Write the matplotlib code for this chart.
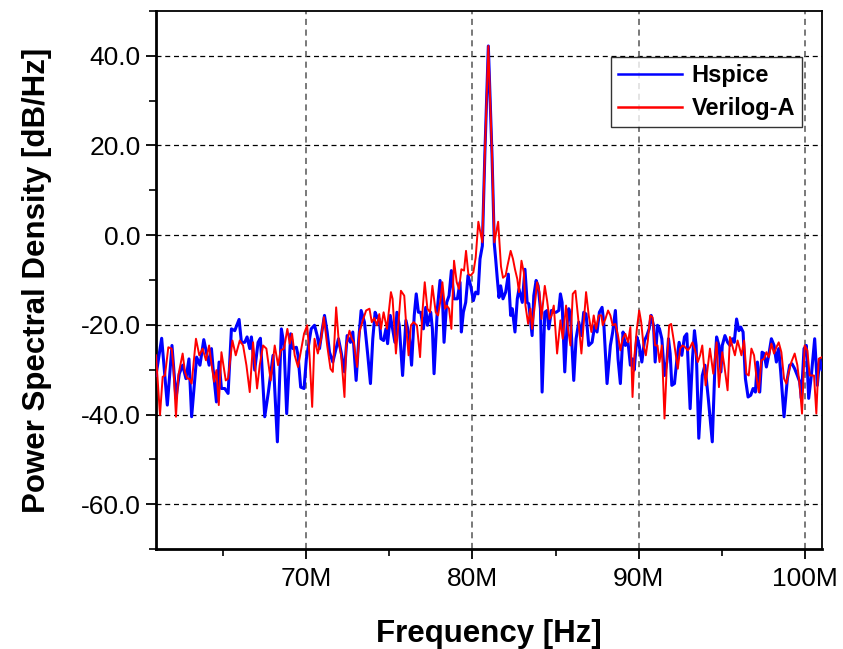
import matplotlib
matplotlib.use("Agg")
import matplotlib.pyplot as plt
from matplotlib.ticker import MultipleLocator, FuncFormatter

# ---- data ----
hspice_freq_mhz = [
    61.00, 61.34, 61.68, 61.96, 62.20, 62.40, 62.60, 62.80, 62.98, 63.14,
    63.44, 63.64, 63.87, 64.07, 64.19, 64.33, 64.43, 64.63, 64.79, 64.93,
    65.13, 65.33, 65.53, 65.73, 65.99, 66.13, 66.33, 66.47, 66.63, 66.73,
    66.93, 67.13, 67.27, 67.53, 67.75, 68.03, 68.29, 68.53, 68.69, 68.85,
    69.09, 69.23, 69.43, 69.53, 69.69, 69.89, 70.03, 70.16, 70.32, 70.52,
    70.68, 70.82, 70.96, 71.12, 71.28, 71.42, 71.62, 71.82, 71.96, 72.12,
    72.32, 72.48, 72.68, 72.82, 73.02, 73.18, 73.32, 73.52, 73.72, 73.88,
    74.02, 74.16, 74.30, 74.41, 74.51, 74.67, 74.81, 74.91, 75.07, 75.21,
    75.35, 75.47, 75.61, 75.81, 76.01, 76.21, 76.35, 76.51, 76.63, 76.76,
    76.90, 77.06, 77.20, 77.30, 77.50, 77.60, 77.70, 77.90, 78.06, 78.20,
    78.30, 78.46, 78.60, 78.74, 78.90, 79.10, 79.26, 79.34, 79.46, 79.60,
    79.74, 79.90, 80.06, 80.20, 80.34, 80.46, 80.60, 80.75, 80.96, 81.18,
    81.32, 81.40, 81.50, 81.60, 81.70, 81.84, 82.00, 82.16, 82.30, 82.40,
    82.56, 82.70, 82.80, 82.90, 83.00, 83.16, 83.29, 83.39, 83.59, 83.69,
    83.83, 83.95, 84.09, 84.19, 84.35, 84.49, 84.59, 84.75, 84.89, 85.03,
    85.19, 85.29, 85.39, 85.55, 85.69, 85.79, 85.89, 86.09, 86.23, 86.39,
    86.55, 86.69, 86.83, 86.99, 87.19, 87.35, 87.49, 87.63, 87.79, 87.89,
    88.09, 88.29, 88.43, 88.59, 88.75, 88.89, 89.05, 89.19, 89.35, 89.49,
    89.62, 89.72, 89.88, 90.02, 90.18, 90.34, 90.48, 90.62, 90.74, 90.88,
    90.98, 91.12, 91.24, 91.38, 91.54, 91.68, 91.78, 91.88, 91.98, 92.14,
    92.28, 92.42, 92.58, 92.74, 92.88, 93.08, 93.22, 93.34, 93.44, 93.60,
    93.81, 93.97, 94.17, 94.41, 94.57, 94.67, 94.81, 94.93, 95.01, 95.17,
    95.33, 95.47, 95.61, 95.73, 95.87, 96.01, 96.12, 96.26, 96.40, 96.56,
    96.72, 96.86, 97.00, 97.12, 97.26, 97.40, 97.52, 97.66, 97.80, 97.96,
    98.12, 98.26, 98.40, 98.52, 98.72, 98.92, 99.06, 99.20, 99.36, 99.52,
    99.66, 99.76, 99.92, 100.06, 100.20, 100.36, 100.56, 100.72, 100.86, 101.0,
]
hspice_psd = [
    -31.3, -23.0, -37.9, -24.6, -36.4, -30.9, -29.0, -32.0, -27.6, -40.5,
    -27.2, -29.0, -23.3, -26.8, -29.0, -25.3, -29.8, -37.2, -28.3, -34.2,
    -34.2, -35.3, -20.9, -21.3, -18.8, -23.9, -23.9, -22.7, -25.3, -22.7,
    -30.1, -23.9, -23.0, -40.5, -35.0, -26.8, -46.1, -20.9, -24.6, -39.8,
    -22.0, -25.3, -25.0, -26.8, -33.9, -34.2, -27.6, -24.6, -20.9, -20.1,
    -22.4, -25.3, -21.6, -17.9, -21.6, -26.1, -28.3, -25.3, -23.1, -26.1,
    -30.5, -22.4, -23.9, -21.6, -32.4, -23.1, -16.8, -19.4, -26.8, -33.1,
    -23.1, -17.2, -18.5, -18.7, -23.1, -23.5, -20.9, -24.2, -17.9, -20.9,
    -23.9, -17.2, -20.1, -31.3, -19.0, -22.4, -29.0, -17.9, -13.1, -17.2,
    -17.2, -20.9, -16.1, -20.1, -17.2, -20.9, -30.9, -16.4, -10.1, -13.5,
    -23.9, -15.0, -13.5, -7.9, -14.2, -14.2, -10.5, -21.6, -17.2, -15.0,
    -9.0, -11.3, -14.6, -12.7, -13.1, -5.3, -2.4, 18.0, 42.2, 18.0,
    -2.0, -5.3, -9.8, -13.9, -11.3, -14.2, -12.7, -8.7, -17.9, -16.4,
    -21.6, -14.2, -12.0, -13.5, -15.0, -7.6, -15.0, -15.3, -22.4, -13.5,
    -10.1, -11.3, -16.4, -35.0, -17.2, -16.8, -20.9, -16.8, -17.2, -17.2,
    -16.8, -13.1, -15.0, -30.5, -20.1, -16.4, -17.9, -32.4, -23.1, -19.4,
    -22.4, -17.2, -17.6, -24.6, -23.9, -20.1, -21.6, -17.2, -16.1, -19.4,
    -33.1, -24.6, -21.6, -16.8, -27.6, -33.1, -21.6, -24.6, -23.9, -29.0,
    -27.6, -30.1, -22.7, -24.6, -28.3, -23.5, -22.4, -20.9, -17.9, -20.1,
    -28.3, -20.1, -20.9, -23.1, -31.3, -28.3, -23.1, -26.4, -33.5, -33.1,
    -27.9, -23.9, -26.8, -22.7, -22.0, -38.7, -27.6, -21.3, -24.6, -45.3,
    -31.3, -29.0, -36.4, -46.1, -29.0, -22.7, -24.6, -30.5, -24.6, -22.4,
    -23.9, -24.6, -23.1, -23.9, -18.7, -21.3, -20.5, -21.6, -32.0, -36.1,
    -35.7, -34.2, -35.0, -28.3, -35.0, -26.1, -26.4, -29.4, -26.8, -23.1,
    -24.6, -28.3, -25.3, -30.5, -40.5, -32.0, -29.0, -28.7, -29.8, -31.3,
    -32.7, -36.4, -25.3, -24.6, -36.4, -31.3, -23.1, -33.5, -27.6, -30.0,
]

veriloga_freq_mhz = [
    61.00, 61.24, 61.40, 61.54, 61.74, 61.94, 62.04, 62.20, 62.34, 62.60,
    62.74, 62.88, 63.00, 63.14, 63.40, 63.60, 63.80, 64.00, 64.19, 64.33,
    64.49, 64.63, 64.77, 64.93, 65.19, 65.33, 65.59, 65.79, 66.03, 66.23,
    66.43, 66.63, 66.83, 67.07, 67.23, 67.43, 67.63, 67.89, 68.13, 68.33,
    68.49, 68.69, 68.89, 69.03, 69.17, 69.33, 69.53, 69.73, 69.89, 70.08,
    70.22, 70.38, 70.52, 70.72, 70.92, 71.08, 71.28, 71.48, 71.62, 71.82,
    71.98, 72.12, 72.32, 72.42, 72.62, 72.76, 72.88, 73.08, 73.22, 73.42,
    73.62, 73.82, 73.96, 74.11, 74.27, 74.41, 74.51, 74.67, 74.87, 75.11,
    75.21, 75.41, 75.55, 75.71, 75.91, 76.07, 76.17, 76.31, 76.47, 76.67,
    76.86, 77.00, 77.14, 77.30, 77.46, 77.60, 77.80, 77.94, 78.10, 78.20,
    78.36, 78.46, 78.60, 78.74, 78.90, 79.06, 79.20, 79.34, 79.50, 79.62,
    79.76, 79.90, 80.06, 80.20, 80.36, 80.60, 80.75, 80.96, 81.18, 81.32,
    81.55, 81.72, 81.84, 82.00, 82.10, 82.30, 82.44, 82.56, 82.70, 82.80,
    82.95, 83.09, 83.19, 83.35, 83.49, 83.59, 83.75, 83.89, 84.03, 84.15,
    84.35, 84.49, 84.63, 84.75, 84.89, 85.09, 85.29, 85.43, 85.63, 85.75,
    85.89, 86.03, 86.19, 86.35, 86.55, 86.69, 86.83, 86.99, 87.15, 87.29,
    87.43, 87.59, 87.75, 87.83, 87.99, 88.15, 88.29, 88.43, 88.59, 88.75,
    88.89, 89.03, 89.19, 89.35, 89.49, 89.62, 89.74, 89.88, 90.02, 90.14,
    90.28, 90.42, 90.54, 90.68, 90.82, 90.98, 91.12, 91.24, 91.38, 91.54,
    91.68, 91.82, 91.94, 92.08, 92.22, 92.34, 92.48, 92.62, 92.78, 92.94,
    93.08, 93.22, 93.38, 93.54, 93.68, 93.81, 94.01, 94.27, 94.47, 94.67,
    94.81, 95.01, 95.13, 95.33, 95.47, 95.61, 95.77, 95.93, 96.06, 96.16,
    96.32, 96.46, 96.60, 96.76, 96.92, 97.06, 97.20, 97.36, 97.52, 97.66,
    97.80, 97.96, 98.12, 98.26, 98.40, 98.56, 98.72, 98.86, 99.00, 99.16,
    99.36, 99.52, 99.66, 99.80, 99.96, 100.12, 100.26, 100.40, 100.52, 100.66,
    100.80, 101.0,
]
veriloga_psd = [
    -26.8, -40.1, -31.6, -31.3, -25.0, -25.3, -29.0, -40.5, -31.3, -26.4,
    -30.5, -32.0, -32.0, -33.1, -23.1, -26.8, -25.3, -27.9, -24.6, -28.7,
    -32.7, -30.1, -37.9, -26.1, -32.4, -32.0, -23.5, -26.8, -23.5, -24.6,
    -29.0, -35.0, -23.9, -34.2, -29.0, -24.6, -25.3, -32.4, -24.6, -29.0,
    -25.7, -25.3, -20.9, -24.2, -22.0, -26.8, -29.4, -25.3, -22.0, -20.1,
    -26.8, -38.3, -23.1, -26.4, -23.1, -18.3, -24.6, -29.8, -30.5, -16.1,
    -23.9, -26.8, -36.1, -24.6, -21.3, -23.1, -23.9, -29.4, -21.6, -19.0,
    -16.8, -16.4, -19.4, -18.5, -20.1, -17.6, -20.9, -17.2, -20.9, -12.7,
    -14.2, -26.4, -20.1, -12.4, -13.5, -22.4, -26.8, -20.1, -19.4, -20.1,
    -27.2, -17.2, -10.5, -16.4, -17.2, -11.3, -17.2, -17.9, -14.2, -10.5,
    -16.4, -15.7, -16.4, -20.9, -5.7, -10.5, -12.0, -7.6, -7.9, -3.5,
    -8.7, -9.0, -8.3, -5.0, 3.0, -1.6, 18.0, 42.2, 18.0, -1.6,
    3.0, -7.0, -9.5, -9.0, -7.0, -3.5, -5.3, -7.6, -9.8, -12.7,
    -5.7, -8.3, -15.7, -19.8, -16.4, -20.9, -15.7, -10.5, -12.7, -18.7,
    -11.3, -14.6, -18.7, -18.0, -15.7, -26.4, -19.0, -23.1, -15.7, -20.9,
    -24.6, -13.1, -12.4, -18.3, -26.4, -19.4, -12.7, -17.9, -21.6, -17.9,
    -20.9, -17.9, -17.9, -20.1, -18.7, -16.8, -17.9, -20.1, -19.8, -22.4,
    -25.7, -23.1, -22.0, -23.9, -20.5, -36.1, -26.8, -20.9, -16.8, -19.4,
    -24.6, -26.8, -23.5, -17.9, -18.3, -24.6, -24.6, -28.3, -24.6, -40.9,
    -29.0, -20.1, -19.8, -23.1, -26.8, -29.8, -25.3, -24.6, -25.0, -25.7,
    -25.0, -23.9, -25.7, -28.3, -26.8, -24.6, -33.5, -25.3, -30.9, -23.9,
    -33.9, -26.1, -29.0, -34.6, -22.7, -24.6, -26.8, -23.5, -25.3, -26.8,
    -23.5, -30.9, -31.3, -25.3, -26.8, -31.6, -35.0, -27.9, -27.6, -26.1,
    -27.2, -24.2, -26.4, -25.0, -23.9, -26.1, -32.0, -33.1, -30.5, -28.3,
    -26.4, -29.0, -33.5, -39.8, -24.6, -25.7, -31.3, -31.3, -31.3, -39.8,
    -27.6, -27.2,
]

x_ticks_mhz = [70, 80, 90, 100]
x_tick_labels = ["70M", "80M", "90M", "100M"]
y_ticks = [-60, -40, -20, 0, 20, 40]

# ---- figure ----
plt.rcParams["font.family"] = ["Liberation Sans", "DejaVu Sans"]
fig = plt.figure(figsize=(8.43, 6.49), dpi=100)
ax = fig.add_axes([156 / 843, 1 - 549 / 649, (822 - 156) / 843, (549 - 11) / 649])

ax.plot(hspice_freq_mhz, hspice_psd, color="#0000ff", lw=2.2, label="Hspice",
        solid_joinstyle="round", zorder=3)
ax.plot(veriloga_freq_mhz, veriloga_psd, color="#ff0000", lw=1.4, label="Verilog-A",
        solid_joinstyle="round", zorder=4)

ax.set_xlim(61, 101)
ax.set_ylim(-70, 50)

ax.set_xticks(x_ticks_mhz)
ax.set_xticklabels(x_tick_labels)
ax.xaxis.set_minor_locator(MultipleLocator(5))
ax.set_yticks(y_ticks)
ax.yaxis.set_major_formatter(FuncFormatter(lambda v, p: f"{v:.1f}".replace("\u2212", "-")))
ax.yaxis.set_minor_locator(MultipleLocator(10))

ax.tick_params(axis="both", which="major", direction="out", length=7, width=1.3,
               labelsize=19, pad=4, colors="black")
ax.tick_params(axis="both", which="minor", direction="out", length=5, width=1.2)
ax.tick_params(axis="x", which="major", pad=6)

for y in y_ticks:
    ax.axhline(y, color="black", lw=0.9, ls=(0, (4, 3)), zorder=1)
for x in x_ticks_mhz:
    ax.axvline(x, color="#555555", lw=1.1, ls=(0, (4, 3)), zorder=1)

for side in ["left", "bottom"]:
    ax.spines[side].set_linewidth(2.0)
for side in ["top", "right"]:
    ax.spines[side].set_linewidth(1.3)

ax.set_xlabel("Frequency [Hz]", fontsize=22.5, fontweight="bold", labelpad=20)
ax.set_ylabel("Power Spectral Density [dB/Hz]", fontsize=22.5, fontweight="bold", labelpad=21)

leg = ax.legend(loc="upper right", bbox_to_anchor=((802 - 156) / 666, (549 - 57) / 538),
                borderaxespad=0, fancybox=False, frameon=True, edgecolor="black",
                prop={"weight": "bold", "size": 17}, handlelength=2.7,
                handletextpad=0.4, borderpad=0.3, labelspacing=0.42)
leg.get_frame().set_linewidth(1.0)
for line in leg.get_lines():
    line.set_linewidth(1.8)

fig.savefig("out.png", dpi=100)
